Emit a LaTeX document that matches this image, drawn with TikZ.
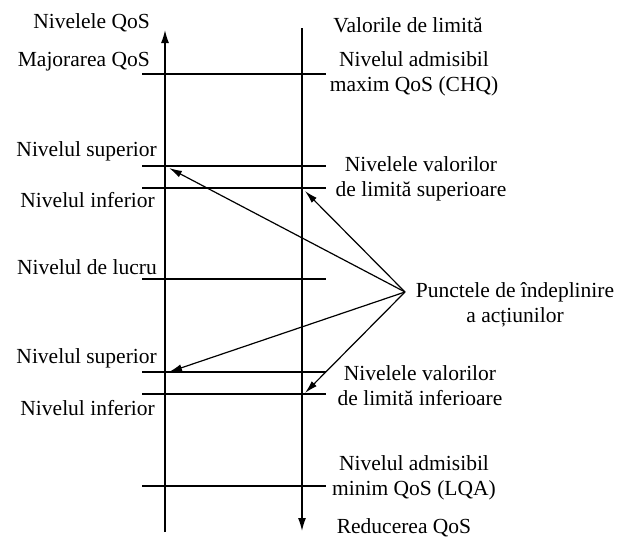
\documentclass[tikz,border=0pt]{standalone}
\usepackage{fontspec}
\setmainfont{Liberation Serif}
\newfontfamily\tnr{Liberation Serif}
\usetikzlibrary{arrows.meta}
\begin{document}
\begin{tikzpicture}[x=1pt,y=-1pt,
  ln/.style={line width=1.4pt},
  ax/.style={line width=1.4pt,-{Latex[length=13pt,width=8pt]}},
  pt/.style={line width=1.2pt,-{Latex[length=13pt,width=7pt]}},
  lbl/.style={font=\tnr\fontsize{21.5}{25}\selectfont,inner sep=0pt,align=center},
  lr/.style={lbl,anchor=east},
  ll/.style={lbl,anchor=west}]
\useasboundingbox (0,0) rectangle (622,538);
% axes
\coordinate (Lb) at (165,532);
\coordinate (Lt) at (165,30);
\coordinate (Rt) at (302,28);
\coordinate (Rb) at (302,531);
\draw[ax] (Lb) -- (Lt);
\draw[ax] (Rt) -- (Rb);
% horizontal levels
\foreach \n/\y in {max/74,s1/166,i1/188,lucru/279,s2/372,i2/394,min/486}{
  \coordinate (\n-a) at (142,\y);
  \coordinate (\n-b) at (326,\y);
  \draw[ln] (\n-a) -- (\n-b);
}
% left labels
\node[lr] (tNQ) at (150,23) {Nivelele QoS};
\node[lr] (tMaj) at (150,62) {Majorarea QoS};
\node[lr] (tS1) at (157,151) {Nivelul superior};
\node[lr] (tI1) at (155,200) {Nivelul inferior};
\node[lr] (tLu) at (157,267) {Nivelul de lucru};
\node[lr] (tS2) at (157,358) {Nivelul superior};
\node[lr] (tI2) at (155,408) {Nivelul inferior};
% right labels
\node[lbl] (tVL) at (408,25) {Valorile de limită};
\node[lbl] (tCHQ) at (414,74) {Nivelul admisibil\\maxim QoS (CHQ)};
\node[lbl] (tSup) at (421,179) {Nivelele valorilor\\de limită superioare};
\node[lbl] (tP) at (515,305) {Punctele de îndeplinire\\a acțiunilor};
\node[lbl] (tInf) at (420,386) {Nivelele valorilor\\de limită inferioare};
\node[lbl] (tLQA) at (414,478) {Nivelul admisibil\\minim QoS (LQA)};
\node[lbl] (tRed) at (404,528) {Reducerea QoS};
% action points arrows
\coordinate (P) at (405,292);
\coordinate (e1) at (169,168);
\coordinate (e2) at (305,191);
\coordinate (e3) at (169,372);
\coordinate (e4) at (305,393);
\draw[pt] (P) -- (e1);
\draw[pt] (P) -- (e2);
\draw[pt] (P) -- (e3);
\draw[pt] (P) -- (e4);
\end{tikzpicture}
\end{document}
